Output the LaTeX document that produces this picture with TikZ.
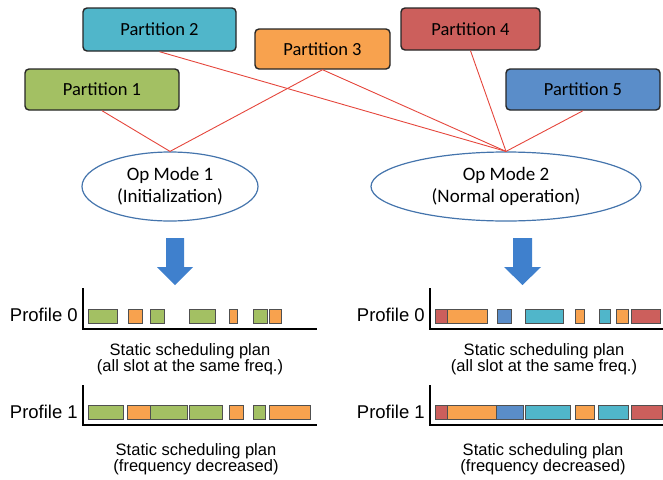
\documentclass[tikz,border=0pt]{standalone}
\usepackage{fontspec}
\setmainfont{Carlito}
\newfontfamily\plotfont{Liberation Sans}
\usetikzlibrary{shapes.geometric}

\definecolor{pgreen}{HTML}{A3C063}
\definecolor{pcyan}{HTML}{50B6CA}
\definecolor{porange}{HTML}{F8A24E}
\definecolor{pred}{HTML}{CC5F5C}
\definecolor{pblue}{HTML}{5A8DC9}
\definecolor{linkred}{HTML}{E5463C}
\definecolor{modeblue}{HTML}{4474AC}
\definecolor{arrowblue}{HTML}{3F80CD}
\definecolor{barline}{HTML}{505050}

\begin{document}
\begin{tikzpicture}[x=1pt,y=-1pt,
  part/.style={draw=black!85, line width=1.4pt, rounded corners=4pt,
    inner sep=0pt, font=\fontsize{18.5}{20}\selectfont},
  link/.style={draw=linkred, line width=0.9pt},
  mode/.style={ellipse, draw=modeblue, line width=1.2pt, inner sep=0pt,
    align=center, font=\fontsize{19}{22}\selectfont},
  downarrow/.style={fill=arrowblue, draw=none},
  proflabel/.style={anchor=east, inner sep=0pt, font=\plotfont\fontsize{18.5}{20}\selectfont},
  caption/.style={align=center, inner sep=0pt, font=\plotfont\fontsize{16.5}{16}\selectfont},
  axis/.style={draw=black, line width=1.5pt},
  slot/.style={draw=barline, line width=0.6pt}]

\useasboundingbox (0,0) rectangle (663,479);

% partitions
\node[part, fill=pgreen,  minimum width=154pt, minimum height=41pt] (p1) at (102,89.5)  {Partition 1};
\node[part, fill=pcyan,   minimum width=153pt, minimum height=43pt] (p2) at (159.5,29.5) {Partition 2};
\node[part, fill=porange, minimum width=135pt, minimum height=40pt] (p3) at (322.5,49)  {Partition 3};
\node[part, fill=pred,    minimum width=139pt, minimum height=42pt] (p4) at (470.5,29)  {Partition 4};
\node[part, fill=pblue,   minimum width=154pt, minimum height=41pt] (p5) at (583,89.5)  {Partition 5};

% operating modes
\node[mode, minimum width=176pt, minimum height=69pt] (m1) at (170,186.5) {Op Mode 1\\(Initialization)};
\node[mode, minimum width=270pt, minimum height=69pt] (m2) at (506,186.5) {Op Mode 2\\(Normal operation)};

% partition-to-mode links
\draw[link] (p1.south) -- (m1.north);
\draw[link] (p3.south) -- (m1.north);
\draw[link] (p2.south) -- (m2.north);
\draw[link] (p3.south) -- (m2.north);
\draw[link] (p4.south) -- (m2.north);
\draw[link] (p5.south) -- (m2.north);

% block arrows
\fill[downarrow] (166,238) -- (184,238) -- (184,267) -- (193,267) -- (175,285)
  -- (157,267) -- (166,267) -- cycle;
\fill[downarrow] (513,238) -- (532,238) -- (532,267) -- (541,267) -- (522.5,285)
  -- (504,267) -- (513,267) -- cycle;

% ---- left: Op Mode 1 schedules ----
\node[proflabel] (l0) at (78,315) {Profile 0};
\coordinate (la0t) at (83,288);
\coordinate (la0o) at (83,329);
\coordinate (la0r) at (317,329);
\draw[axis] (la0t) -- (la0o) -- (la0r);
\foreach \a/\b/\c in {88/117/pgreen, 128/142/porange, 150/164/pgreen, 189/215/pgreen,
    229/237/porange, 253/267/pgreen, 269/281/porange}
  \draw[slot, fill=\c] (\a,309) rectangle (\b,323);
\node[caption] (lc0) at (190,359) {Static scheduling plan\\(all slot at the same freq.)};

\node[proflabel] (l1) at (78,412) {Profile 1};
\coordinate (la1t) at (83,385);
\coordinate (la1o) at (83,425);
\coordinate (la1r) at (317,425);
\draw[axis] (la1t) -- (la1o) -- (la1r);
\foreach \a/\b/\c in {88/123/pgreen, 127/150/porange, 150/187/pgreen, 189/222/pgreen,
    229/243/porange, 253/265/pgreen, 269/310/porange}
  \draw[slot, fill=\c] (\a,405) rectangle (\b,419);
\node[caption] (lc1) at (196,459) {Static scheduling plan\\(frequency decreased)};

% ---- right: Op Mode 2 schedules ----
\node[proflabel] (r0) at (425,315) {Profile 0};
\coordinate (ra0t) at (430,288);
\coordinate (ra0o) at (430,329);
\coordinate (ra0r) at (663,329);
\draw[axis] (ra0t) -- (ra0o) -- (ra0r);
\foreach \a/\b/\c in {435/447/pred, 447/487/porange, 497/511/pblue, 525/563/pcyan,
    575/584/porange, 599/610/pcyan, 616/628/porange, 631/660/pred}
  \draw[slot, fill=\c] (\a,309) rectangle (\b,323);
\node[caption] (rc0) at (544,359) {Static scheduling plan\\(all slot at the same freq.)};

\node[proflabel] (r1) at (425,412) {Profile 1};
\coordinate (ra1t) at (430,385);
\coordinate (ra1o) at (430,425);
\coordinate (ra1r) at (663,425);
\draw[axis] (ra1t) -- (ra1o) -- (ra1r);
\foreach \a/\b/\c in {435/447/pred, 447/496/porange, 496/523/pblue, 525/570/pcyan,
    575/594/porange, 598/628/pcyan, 631/662/pred}
  \draw[slot, fill=\c] (\a,405) rectangle (\b,419);
\node[caption] (rc1) at (543,459) {Static scheduling plan\\(frequency decreased)};

\end{tikzpicture}
\end{document}
